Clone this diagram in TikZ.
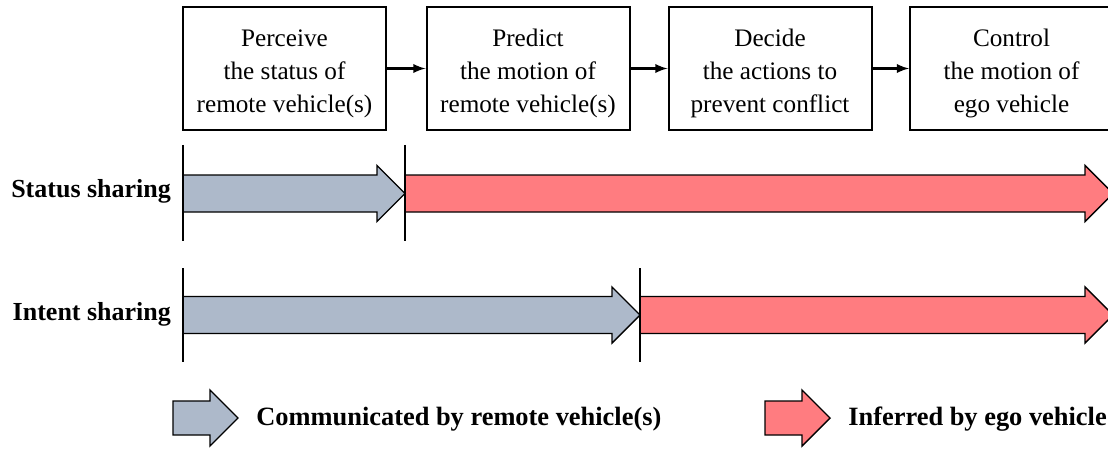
\documentclass[tikz,border=0pt]{standalone}
\usepackage{fontspec}
\setmainfont{Liberation Serif}
\usetikzlibrary{positioning}
\definecolor{remotegray}{HTML}{ADB9CA}
\definecolor{egored}{HTML}{FF7C80}
\tikzset{
 stagebox/.style={draw,line width=1pt,minimum width=101.5pt,minimum height=61.5pt,align=center,inner sep=0pt,font=\fontsize{12.6}{16.5}\selectfont},
 rowlabel/.style={anchor=east,font=\fontsize{13}{15}\selectfont\bfseries},
 legendtext/.style={anchor=west,inner sep=0pt,font=\fontsize{13.2}{15}\selectfont\bfseries},
 flow/.style={line width=1.1pt,-latex},
 tick/.style={line width=0.9pt},
}
\newcommand{\topstrut}{\rule{0pt}{13.5pt}}
% fat arrow: start x, tip x, centre y, half body, half head, colour
\newcommand{\fatarrow}[6]{
 \filldraw[fill=#6,line width=0.7pt,line join=miter]
  (#1,#3-#4) -- (#2-#5,#3-#4) -- (#2-#5,#3-#5) -- (#2,#3)
  -- (#2-#5,#3+#5) -- (#2-#5,#3+#4) -- (#1,#3+#4) -- cycle;
}
\begin{document}
\begin{tikzpicture}[x=0.5pt,y=-0.5pt]
\useasboundingbox (0,0) rectangle (1108,449);
% stages
\node[stagebox] (perceive) at (284.5,68.5) {\topstrut Perceive\\the status of\\remote vehicle(s)};
\node[stagebox] (predict) at (528,68.5) {\topstrut Predict\\the motion of\\remote vehicle(s)};
\node[stagebox] (decide) at (770,68.5) {\topstrut Decide\\the actions to\\prevent conflict};
\node[stagebox] (control) at (1011.5,68.5) {\topstrut Control\\the motion of\\ego vehicle};
\draw[flow] (perceive) -- (predict);
\draw[flow] (predict) -- (decide);
\draw[flow] (decide) -- (control);
% status sharing
\node[rowlabel] (status) at (178,191) {Status sharing};
\fatarrow{183}{405}{193.5}{18.5}{28}{remotegray}
\fatarrow{405}{1113}{193.5}{18.5}{28}{egored}
\draw[tick] (183,145) -- (183,241);
\draw[tick] (405,145) -- (405,241);
% intent sharing
\node[rowlabel] (intent) at (178,314) {Intent sharing};
\fatarrow{183}{640}{315}{18.5}{28}{remotegray}
\fatarrow{640}{1113}{315}{18.5}{28}{egored}
\draw[tick] (183,268) -- (183,362);
\draw[tick] (640,268) -- (640,362);
% legend
\fatarrow{173}{238}{418}{17}{28}{remotegray}
\node[legendtext] (comm) at (256,419) {Communicated by remote vehicle(s)};
\fatarrow{765}{830}{418}{17}{28}{egored}
\node[legendtext] (infer) at (848,419) {Inferred by ego vehicle};
\end{tikzpicture}
\end{document}
